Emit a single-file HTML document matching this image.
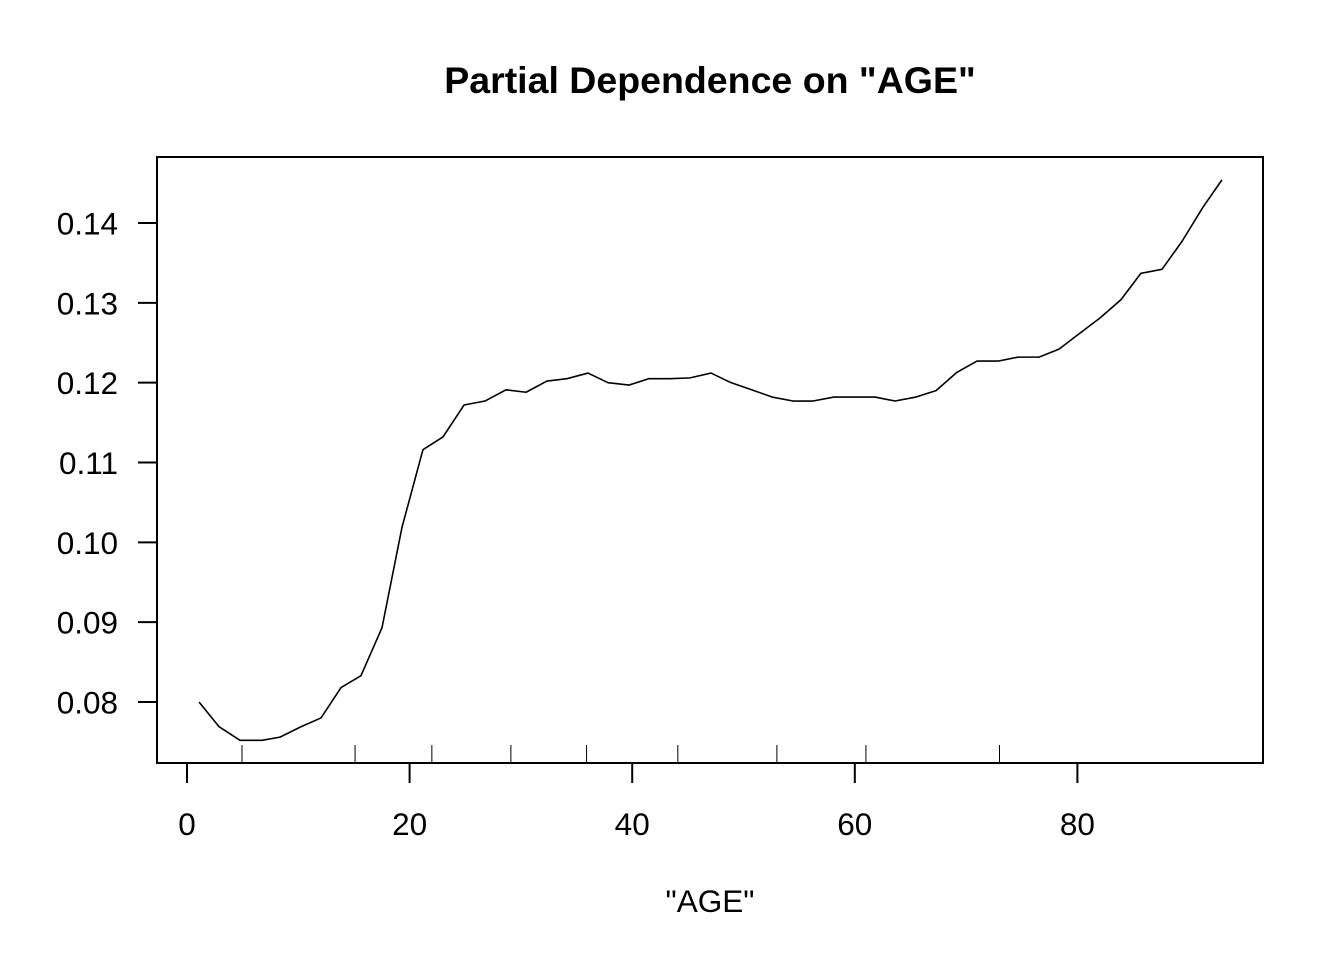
<!DOCTYPE html>
<html><head><meta charset="utf-8"><style>
html,body{margin:0;padding:0;background:#fff;width:1344px;height:960px;overflow:hidden}
text{font-family:"Liberation Sans",Arial,sans-serif;fill:#000}
</style></head><body>
<svg id="chart" width="1344" height="960" xmlns="http://www.w3.org/2000/svg">
<text x="710" y="93" text-anchor="middle" font-size="37.5" font-weight="bold">Partial Dependence on "AGE"</text>
<rect x="157" y="157" width="1106" height="606" fill="none" stroke="#000" stroke-width="2"/>
<text x="710" y="912" text-anchor="middle" font-size="31.5">"AGE"</text>
<g id="xaxis"></g>
<g id="yaxis"></g>
<g id="rug"></g>
<polyline id="line" fill="none" stroke="#000" stroke-width="1.6" stroke-linejoin="round"/>
</svg>
<script>
const ages=[1.08,2.88,4.76,6.74,8.36,10.24,12.04,13.84,15.63,17.52,19.32,21.2,23.0,24.89,26.77,28.66,30.46,32.34,34.14,36.03,37.83,39.71,41.51,43.4,45.2,47.08,48.88,50.76,52.56,54.45,56.25,58.13,59.93,61.82,63.62,65.5,67.3,69.18,70.98,72.87,74.66,76.55,78.35,80.23,82.03,83.92,85.71,87.6,89.4,91.29,92.99];
const pd=[0.0800,0.0769,0.0752,0.0752,0.0756,0.0769,0.0780,0.0818,0.0833,0.0893,0.1019,0.1116,0.1132,0.1172,0.1177,0.1191,0.1188,0.1202,0.1205,0.1212,0.1200,0.1197,0.1205,0.1205,0.1206,0.1212,0.1200,0.1191,0.1182,0.1177,0.1177,0.1182,0.1182,0.1182,0.1177,0.1182,0.1190,0.1213,0.1227,0.1227,0.1232,0.1232,0.1242,0.1262,0.1281,0.1304,0.1337,0.1342,0.1377,0.1420,0.1454];
const rugVals=[4.94,15.1,22.0,29.1,35.9,44.1,53.0,61.0,73.0];
const xTicks=[0,20,40,60,80];
const yTicks=[0.08,0.09,0.10,0.11,0.12,0.13,0.14];
const yLabels=["0.08","0.09","0.10","0.11","0.12","0.13","0.14"];
const X=v=>187+v*11.13;
const Y=v=>223+(0.14-v)*7983;
const NS="http://www.w3.org/2000/svg";
function mk(tag,attrs,parent){const e=document.createElementNS(NS,tag);for(const k in attrs)e.setAttribute(k,attrs[k]);parent.appendChild(e);return e;}
const xa=document.getElementById('xaxis'),ya=document.getElementById('yaxis'),rug=document.getElementById('rug');
xTicks.forEach(t=>{
 const l=mk('line',{x1:X(t),x2:X(t),y1:763,y2:783,stroke:'#000','stroke-width':2},xa);
 
 
 const tx=mk('text',{x:X(t),y:835,'text-anchor':'middle','font-size':31.5},xa);tx.textContent=t;
 
 
});
yTicks.forEach((t,i)=>{
 const l=mk('line',{x1:138,x2:157,y1:Y(t),y2:Y(t),stroke:'#000','stroke-width':2},ya);
 
 
 const tx=mk('text',{x:118,y:Y(t)+11.5,'text-anchor':'end','font-size':31.5},ya);tx.textContent=yLabels[i];
 
 
});
rugVals.forEach(v=>{
 const l=mk('line',{x1:X(v),x2:X(v),y1:745,y2:763,stroke:'#000','stroke-width':1},rug);
 
 
});
document.getElementById('line').setAttribute('points',ages.map((a,i)=>X(a)+','+Y(pd[i])).join(' '));
</script>
</body></html>
